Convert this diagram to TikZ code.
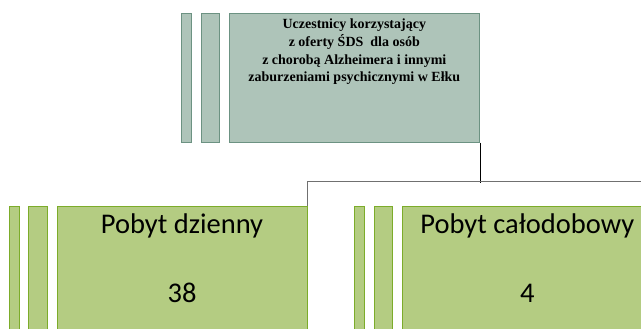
\documentclass[tikz,border=0pt]{standalone}
\usepackage{fontspec}
\setmainfont{Liberation Serif}
\newfontfamily\calibri{Carlito}
\usetikzlibrary{positioning}

\definecolor{szaryfill}{RGB}{174,196,185}
\definecolor{szaryline}{RGB}{108,146,130}
\definecolor{zielonyfill}{RGB}{180,204,130}
\definecolor{zielonyline}{RGB}{124,172,42}
\definecolor{liniaszara}{RGB}{112,112,112}

\tikzset{
  szary/.style={draw=szaryline, fill=szaryfill, line width=0.9pt, inner sep=0pt,
    minimum height=128.4pt},
  zielony/.style={draw=zielonyline, fill=zielonyfill, line width=0.9pt, inner sep=0pt,
    minimum height=150pt},
  glowny/.style={minimum width=250pt, anchor=north west},
  paskiwide/.style={minimum width=18.7pt, left=9pt of #1, anchor=north east},
  paskinarrow/.style={minimum width=9.7pt, left=8.8pt of #1, anchor=north east},
  opis/.style={align=center, anchor=base, inner sep=0pt,
    font=\fontsize{14}{17.8}\selectfont\bfseries},
  liczba/.style={align=center, anchor=base, inner sep=0pt,
    font=\calibri\fontsize{28.5}{68.3}\selectfont},
  polaczenie/.style={draw=liniaszara, line width=1pt},
}

\begin{document}
\begin{tikzpicture}[x=1pt, y=-1pt]
    \useasboundingbox (0,0) rectangle (641,329);
    \clip (0,0) rectangle (641,329);

    \node[szary, glowny] (uczestnicy) at (229.3,13.3) {};
    \node[szary, paskiwide=uczestnicy.north west] (uczestnicyB) {};
    \node[szary, paskinarrow=uczestnicyB.north west] (uczestnicyA) {};
    \node[opis] (uczestnicyT) at (354.3,82)
      {Uczestnicy korzystający\\ z oferty ŚDS\ \ dla osób\\ z chorobą Alzheimera i innymi\\ zaburzeniami psychicznymi w Ełku};

    \node[zielony, glowny] (dzienny) at (57,205.7) {};
    \node[zielony, paskiwide=dzienny.north west] (dziennyB) {};
    \node[zielony, paskinarrow=dziennyB.north west] (dziennyA) {};
    \node[liczba] (dziennyT) at (182,302) {Pobyt dzienny\\ 38};

    \node[zielony, glowny] (calodobowy) at (402.3,205.7) {};
    \node[zielony, paskiwide=calodobowy.north west] (calodobowyB) {};
    \node[zielony, paskinarrow=calodobowyB.north west] (calodobowyA) {};
    \node[liczba] (calodobowyT) at (527.3,302) {Pobyt całodobowy\\ 4};

    \path (uczestnicy.south east) ++(0,40.3) coordinate (rozgalezienie);
    \coordinate (prawo) at (660,182);
    \draw[line width=1pt] (uczestnicy.south east) -- (rozgalezienie);
    \draw[polaczenie] (dzienny.north east) |- (prawo);
\end{tikzpicture}
\end{document}
